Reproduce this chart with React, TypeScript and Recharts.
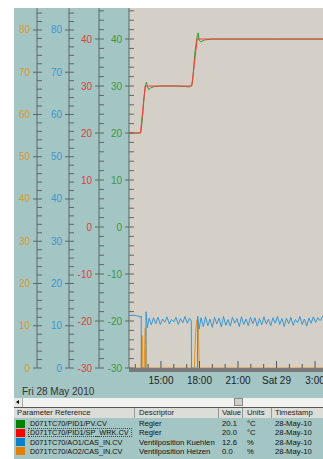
import React from 'react';
import { ComposedChart, Line, XAxis, YAxis, CartesianGrid } from 'recharts';

// time in hours since Fri 00:00 (24 = Sat 00:00)
const timeDomain = [12.51, 27.62];
const hourTicks = [13, 14, 15, 16, 17, 18, 19, 20, 21, 22, 23, 24, 25, 26, 27];
const hourLabels: Record<number, string> = { 15: '15:00', 18: '18:00', 21: '21:00', 24: 'Sat 29', 27: '3:00' };

const pctDomain = [0, 85.2];
const pctMajor = [0, 10, 20, 30, 40, 50, 60, 70, 80];
const tempDomain = [-30, 46.6];
const tempMajor = [-30, -20, -10, 0, 10, 20, 30, 40];

// D071TC70/PID1/PV.CV
const pvPoints = [
  [12.51, 20], [13.4, 20], [13.45, 20.5], [13.55, 23], [13.68, 27.5], [13.8, 30.3], [13.87, 30.8],
  [13.95, 29.8], [14.05, 29.2], [14.2, 29.6], [14.5, 29.9], [15, 30], [16, 30], [16.9, 29.9],
  [17.2, 29.8], [17.4, 30.1], [17.5, 32], [17.62, 36.5], [17.76, 39.5], [17.84, 40.8], [17.9, 41.3],
  [17.97, 39.8], [18.1, 39.4], [18.4, 39.8], [19, 40], [21, 40], [24, 40], [27.62, 40],
];
// D071TC70/PID1/SP_WRK.CV
const spPoints = [
  [12.51, 20], [13.4, 20], [13.77, 30], [17.4, 30], [17.82, 40], [27.62, 40],
];
// D071TC70/AO1/CAS_IN.CV  Ventilposition Kuehlen
const kuehlenPoints = [
  [12.51, 12.4], [12.9, 12.5], [13.2, 12.3], [13.42, 12.0], [13.46, 12.3], [13.47, 0], [13.82, 0],
  [13.84, 13.3], [13.93, 9.5], [14.08, 11.8], [14.25, 10.2], [14.42, 11.9], [14.6, 10.5], [14.77, 12.0],
  [14.95, 10.3], [15.12, 11.6], [15.3, 10.8], [15.47, 12.1], [15.65, 10.4], [15.82, 11.5], [16.0, 10.9],
  [16.17, 12.0], [16.35, 10.3], [16.52, 11.7], [16.7, 10.7], [16.87, 12.2], [17.05, 10.6], [17.22, 11.8],
  [17.36, 11.1], [17.38, 0], [17.84, 0], [17.86, 12.3], [17.97, 9.2], [18.12, 11.9], [18.3, 9.8],
  [18.47, 12.1], [18.65, 10.0], [18.82, 11.6], [19.0, 9.6], [19.17, 12.0], [19.35, 10.4], [19.52, 11.8],
  [19.7, 9.7], [19.87, 12.2], [20.05, 10.1], [20.22, 11.5], [20.4, 9.9], [20.57, 12.0], [20.75, 10.6],
  [20.92, 11.7], [21.1, 9.8], [21.27, 12.1], [21.45, 10.3], [21.62, 11.6], [21.8, 10.0], [21.97, 12.0],
  [22.15, 10.5], [22.32, 11.9], [22.5, 9.9], [22.67, 11.7], [22.85, 10.2], [23.02, 12.1], [23.2, 10.4],
  [23.37, 11.6], [23.55, 10.0], [23.72, 11.9], [23.9, 10.6], [24.07, 12.2], [24.25, 10.3], [24.42, 11.7],
  [24.6, 9.8], [24.77, 11.8], [24.95, 10.5], [25.12, 12.0], [25.3, 10.1], [25.47, 11.5], [25.65, 10.7],
  [25.82, 12.2], [26.0, 10.3], [26.17, 11.6], [26.35, 9.9], [26.52, 11.8], [26.7, 10.6], [26.87, 12.1],
  [27.05, 10.8], [27.22, 11.9], [27.4, 11.2], [27.62, 12.4],
];
// D071TC70/AO2/CAS_IN.CV  Ventilposition Heizen
const heizenPoints = [
  [12.51, 0], [13.45, 0], [13.5, 7.8], [13.55, 7.4], [13.59, 0], [13.7, 0], [13.76, 9.5], [13.82, 9.0],
  [13.86, 0], [17.6, 0], [17.7, 8.5], [17.8, 11.4], [17.9, 11.0], [17.98, 0], [27.62, 0],
];

// legend table
const paramRefs = ['D071TC70/PID1/PV.CV', 'D071TC70/PID1/SP_WRK.CV', 'D071TC70/AO1/CAS_IN.CV', 'D071TC70/AO2/CAS_IN.CV'];
const descriptors = ['Regler', 'Regler', 'Ventilposition Kuehlen', 'Ventilposition Heizen'];
const currentValues = ['20.1', '20.0', '12.6', '0.0'];
const units = ['°C', '°C', '%', '%'];
const timestamps = ['28-May-10', '28-May-10', '28-May-10', '28-May-10'];
const swatches = ['#008000', '#ff0000', '#0a80c8', '#e08000'];

const toRows = (pts: number[][]) => pts.map(([t, v]) => ({ t, v }));

const FONT = '"Liberation Sans", Arial, sans-serif';
const TEAL = '#a3c5c4';
const AXIS = '#5c6868';

function range(from: number, to: number, step: number) {
  const out: number[] = [];
  for (let v = from; v <= to; v += step) out.push(v);
  return out;
}

const makeYTick = (color: string, majors: number[]) => (props: any) => {
  const { x, y, payload } = props;
  const major = majors.includes(payload.value);
  return (
    <g>
      {major ? (
        <>
          <line x1={x - 4} x2={x + 5} y1={y} y2={y} stroke={AXIS} />
          <text x={x - 7} y={y} textAnchor="end" dominantBaseline="central" fontSize={10} fill={color} fontFamily={FONT}>
            {payload.value}
          </text>
        </>
      ) : (
        <line x1={x} x2={x + 5} y1={y} y2={y} stroke={AXIS} />
      )}
    </g>
  );
};

const XTick = (props: any) => {
  const { x, y, payload } = props;
  const label = hourLabels[payload.value];
  return (
    <g>
      <line x1={x} x2={x} y1={y - (label ? 7 : 4)} y2={y} stroke="#555" />
      {label && (
        <text x={x} y={y + 12} textAnchor="middle" dominantBaseline="central" fontSize={10} fill="#222" fontFamily={FONT}>
          {label}
        </text>
      )}
    </g>
  );
};

const cols = [
  { x: 14, w: 121, title: 'Parameter Reference', tx: 17 },
  { x: 135, w: 84, title: 'Descriptor', tx: 139 },
  { x: 219, w: 24, title: 'Value', tx: 222 },
  { x: 243, w: 29, title: 'Units', tx: 247 },
  { x: 272, w: 60, title: 'Timestamp', tx: 275 },
];

const TABLE_FS = 7.7;

export default function App() {
  const pctTicks = range(0, 84, 2);
  const tempTicks = range(-30, 46, 2);
  // recharts stacks left axes by id: "a_" sits next to the plot, "d_" is outermost
  return (
    <div style={{ position: 'absolute', left: 0, top: 0, width: 323, height: 459, background: '#fff', overflow: 'hidden', fontFamily: FONT }}>
      <div style={{ position: 'absolute', left: 14, top: 8, width: 309, height: 451, background: TEAL }} />
      <div style={{ position: 'absolute', left: 0, top: 0 }}>
        <ComposedChart width={323} height={398} margin={{ top: 8, right: 0, bottom: 0, left: 14 }}>
          <CartesianGrid xAxisId="t" yAxisId="a_pv" horizontal={false} vertical={false} fill="#d4d0c8" stroke="none" />
          <XAxis
            xAxisId="t" dataKey="t" type="number" domain={timeDomain} allowDataOverflow ticks={hourTicks} interval={0}
            height={30} tickSize={0} tickMargin={0} tickLine={false} tick={<XTick />}
            axisLine={{ stroke: '#7a7a7a', strokeWidth: 4, transform: 'translate(0,2)' }}
          />
          <YAxis yAxisId="d_heiz" type="number" domain={pctDomain} allowDataOverflow ticks={pctTicks} interval={0}
            width={23} tickSize={0} tickMargin={0} tickLine={false} axisLine={{ stroke: AXIS }} tick={makeYTick('#e0962a', pctMajor)} />
          <YAxis yAxisId="c_kuehl" type="number" domain={pctDomain} allowDataOverflow ticks={pctTicks} interval={0}
            width={32} tickSize={0} tickMargin={0} tickLine={false} axisLine={{ stroke: AXIS }} tick={makeYTick('#3a98d0', pctMajor)} />
          <YAxis yAxisId="b_sp" type="number" domain={tempDomain} allowDataOverflow ticks={tempTicks} interval={0}
            width={30} tickSize={0} tickMargin={0} tickLine={false} axisLine={{ stroke: AXIS }} tick={makeYTick('#e03c3c', tempMajor)} />
          <YAxis yAxisId="a_pv" type="number" domain={tempDomain} allowDataOverflow ticks={tempTicks} interval={0}
            width={30} tickSize={0} tickMargin={0} tickLine={false} axisLine={{ stroke: AXIS }} tick={makeYTick('#3a9a3a', tempMajor)} />
          <Line xAxisId="t" yAxisId="d_heiz" data={toRows(heizenPoints)} dataKey="v" stroke="#e8921e" strokeWidth={1} dot={false} isAnimationActive={false} />
          <Line xAxisId="t" yAxisId="c_kuehl" data={toRows(kuehlenPoints)} dataKey="v" stroke="#3a96d2" strokeWidth={1} dot={false} isAnimationActive={false} />
          <Line xAxisId="t" yAxisId="a_pv" data={toRows(pvPoints)} dataKey="v" stroke="#2e9e2e" strokeWidth={1} dot={false} isAnimationActive={false} />
          <Line xAxisId="t" yAxisId="b_sp" data={toRows(spPoints)} dataKey="v" stroke="#ff3a3a" strokeWidth={1} dot={false} isAnimationActive={false} />
        </ComposedChart>
      </div>

      <div style={{ position: 'absolute', left: 22, top: 386, fontSize: 10, color: '#333' }}>Fri 28 May 2010</div>

      {/* scrollbar */}
      <div style={{ position: 'absolute', left: 14, top: 398, width: 309, height: 9, background: '#f2f2f0', borderBottom: '1px solid #555' }} />
      <div style={{ position: 'absolute', left: 14, top: 398, width: 8, height: 9, background: '#e8e8e6', borderRight: '1px solid #aaa' }}>
        <div style={{ position: 'absolute', left: 2, top: 2, width: 0, height: 0, borderTop: '2.5px solid transparent', borderBottom: '2.5px solid transparent', borderRight: '3px solid #000' }} />
      </div>
      <div style={{ position: 'absolute', left: 234, top: 398, width: 9, height: 8, background: '#d4d0c8', border: '1px solid #888', boxSizing: 'border-box' }} />

      {/* table header */}
      {cols.map((c, i) => (
        <div key={i} style={{ position: 'absolute', left: c.x, top: 408, width: c.w, height: 10, background: '#dcdcd8', borderRight: '1px solid #999', boxSizing: 'border-box' }}>
          <span style={{ position: 'absolute', left: c.tx - c.x, top: 0, fontSize: TABLE_FS, lineHeight: '10px', color: '#222', whiteSpace: 'nowrap' }}>{c.title}</span>
        </div>
      ))}

      {/* table rows */}
      {paramRefs.map((p, r) => {
        const top = 419 + r * 9.3;
        const cells = [descriptors[r], currentValues[r], units[r], timestamps[r]];
        return (
          <React.Fragment key={r}>
            <div style={{ position: 'absolute', left: 16, top: top + 0.5, width: 9, height: 8, background: swatches[r] }} />
            <div style={{ position: 'absolute', left: 28, top, height: 9, boxSizing: 'border-box', border: r === 1 ? '1px dotted #444' : '1px solid transparent', padding: '0 2px 0 1px', fontSize: 7.3, lineHeight: '7px', color: '#111', whiteSpace: 'nowrap' }}>{p}</div>
            {cells.map((txt, ci) => (
              <div key={ci} style={{ position: 'absolute', left: cols[ci + 1].tx, top, fontSize: TABLE_FS, lineHeight: '9px', color: '#111', whiteSpace: 'nowrap' }}>{txt}</div>
            ))}
          </React.Fragment>
        );
      })}
    </div>
  );
}
